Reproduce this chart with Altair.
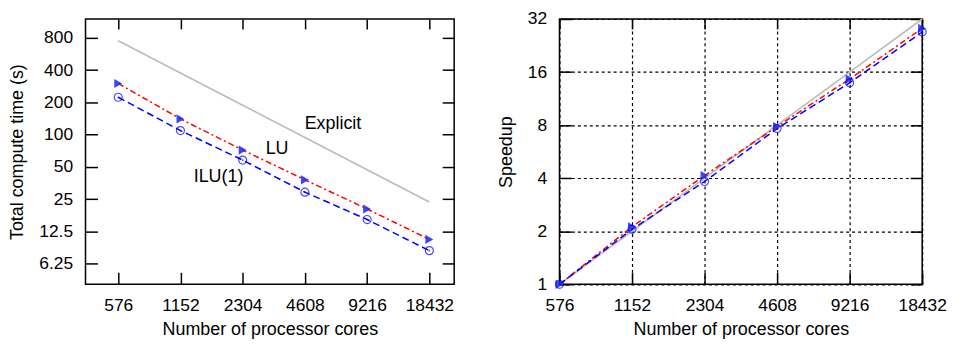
import altair as alt
import pandas as pd

# ---- data ----
cores = [576, 1152, 2304, 4608, 9216, 18432]
time_explicit = [752, 376, 188, 94, 47, 23.5]
time_lu = [300, 140, 71.7, 37.8, 20.2, 10.5]
time_ilu = [223, 109, 57.8, 29.0, 16.1, 8.25]
speedup_explicit = [1, 2, 4, 8, 16, 32]
speedup_lu = [1, 2.12, 4.14, 7.85, 14.6, 28.3]
speedup_ilu = [1, 2.05, 3.83, 7.65, 13.9, 27.0]

time_ticks = [6.25, 12.5, 25, 50, 100, 200, 400, 800]
speed_ticks = [1, 2, 4, 8, 16, 32]

label_text = ["Explicit", "LU", "ILU(1)"]
label_cores = [6300, 3380, 1760]
label_time = [126, 73.5, 39.8]

FONT = "Liberation Sans"
FS = 17.5
FT = 18
TL = 12

rows = []
for name, t, s in [("Explicit", time_explicit, speedup_explicit),
                   ("LU", time_lu, speedup_lu),
                   ("ILU", time_ilu, speedup_ilu)]:
    for c, tv, sv in zip(cores, t, s):
        rows.append({"cores": c, "time": tv, "speedup": sv, "series": name})
df = pd.DataFrame(rows)
lab_df = pd.DataFrame({"text": label_text, "cores": label_cores, "time": label_time})

LW, LH = 371, 267
RW, RH = 365, 267

xs_left = alt.Scale(type="log", domain=[400, 24300], nice=False)
ys_left = alt.Scale(type="log", domain=[4, 1200], nice=False)
xs_right = alt.Scale(type="log", domain=[576, 18432], nice=False)
ys_right = alt.Scale(type="log", domain=[1, 32], nice=False)

tick_style = dict(domain=False, ticks=True, tickSize=TL, tickColor="black", tickWidth=1.5)
text_style = dict(labelFont=FONT, labelFontSize=FS, titleFont=FONT, titleFontSize=FT,
                  titleFontWeight="normal", labelColor="black", titleColor="black")
grid_style = dict(gridColor="black", gridDash=[3, 3], gridWidth=1.2)

frame = alt.ViewBackground(stroke="black", strokeWidth=1.5)


def panel(ycol, xs, ys, ytitle, yticks, yfmt, grid):
    base = alt.Chart(df)
    # main axes (bottom / left), pulled inside the frame so the ticks point inward
    xaxis = alt.Axis(orient="bottom", values=cores, format="d",
                     title="Number of processor cores", offset=-TL, labelPadding=12,
                     labelFlush=False, titlePadding=7, grid=grid,
                     **grid_style, **tick_style, **text_style)
    yaxis = alt.Axis(orient="left", values=yticks, format=yfmt, title=ytitle,
                     offset=-TL, labelPadding=13, titlePadding=12, grid=grid,
                     **grid_style, **tick_style, **text_style)
    # mirrored tick-only axes (top / right)
    xaxis2 = alt.Axis(orient="top", values=cores, labels=False, title=None,
                      offset=-(TL - 2), grid=False, domain=False, ticks=True,
                      tickSize=TL - 2, tickColor="black", tickWidth=1.5)
    yaxis2 = alt.Axis(orient="right", values=yticks, labels=False, title=None,
                      offset=-TL, grid=False, **tick_style)

    def X(field, axis=None):
        return alt.X(field, scale=xs, axis=axis)

    def Y(field, axis=None):
        return alt.Y(field, scale=ys, axis=axis)

    explicit = base.transform_filter(alt.datum.series == "Explicit").mark_line(
        color="#bbbbbb", strokeWidth=1.6).encode(
        x=X("cores:Q", xaxis), y=Y(f"{ycol}:Q", yaxis))
    lu = base.transform_filter(alt.datum.series == "LU").mark_line(
        color="#ff0000", strokeWidth=1.5, strokeDash=[6, 3, 2, 3]).encode(
        x=X("cores:Q", xaxis2), y=Y(f"{ycol}:Q", yaxis2))
    ilu = base.transform_filter(alt.datum.series == "ILU").mark_line(
        color="#0000ff", strokeWidth=1.5, strokeDash=[7, 4]).encode(
        x=X("cores:Q"), y=Y(f"{ycol}:Q"))
    lu_pts = base.transform_filter(alt.datum.series == "LU").mark_point(
        shape="triangle-right", filled=True, color="#2233ff", size=85, opacity=0.9).encode(
        x=X("cores:Q"), y=Y(f"{ycol}:Q"))
    ilu_pts = base.transform_filter(alt.datum.series == "ILU").mark_point(
        shape="circle", filled=False, color="#0000ff", size=65, strokeWidth=1.2).encode(
        x=X("cores:Q"), y=Y(f"{ycol}:Q"))
    ilu_dot = base.transform_filter(alt.datum.series == "ILU").mark_point(
        shape="circle", filled=True, color="#0000ff", size=3).encode(
        x=X("cores:Q"), y=Y(f"{ycol}:Q"))

    return [explicit, lu, ilu, lu_pts, ilu_pts, ilu_dot], X, Y


left_layers, LX, LY = panel("time", xs_left, ys_left, "Total compute time (s)",
                            time_ticks, "~g", False)
labels = alt.Chart(lab_df).mark_text(font=FONT, fontSize=FT, color="black").encode(
    x=LX("cores:Q"), y=LY("time:Q"), text="text:N")
left = alt.layer(*left_layers, labels).resolve_axis(
    x="independent", y="independent").properties(width=LW, height=LH, view=frame)

right_layers, _, _ = panel("speedup", xs_right, ys_right, "Speedup",
                           speed_ticks, "d", True)
right = alt.layer(*right_layers).resolve_axis(
    x="independent", y="independent").properties(width=RW, height=RH, view=frame)

chart = alt.hconcat(left, right, spacing=40).properties(padding=0, background="white")

chart.save("out.html", embed_options={"renderer": "svg", "actions": False})
